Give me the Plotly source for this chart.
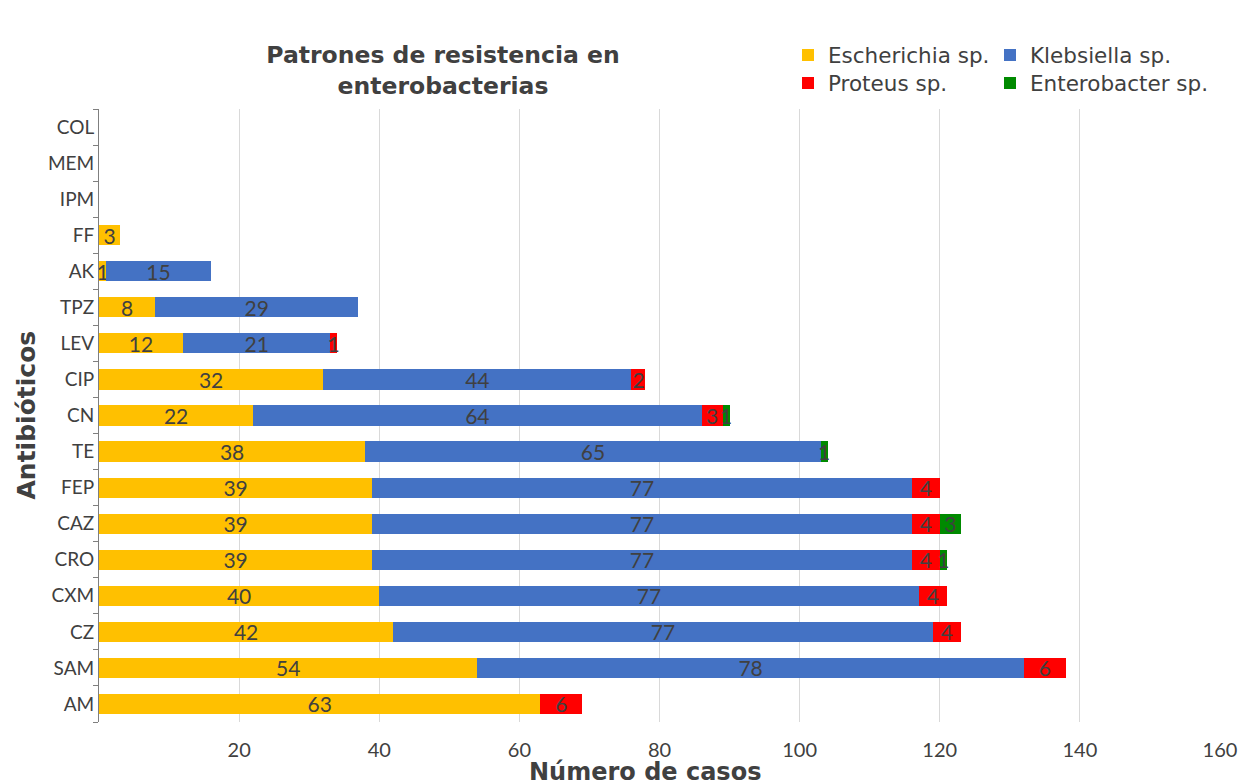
import plotly.graph_objects as go

# Antibiotics, bottom to top
antibiotics = ["AM", "SAM", "CZ", "CXM", "CRO", "CAZ", "FEP", "TE", "CN",
               "CIP", "LEV", "TPZ", "AK", "FF", "IPM", "MEM", "COL"]

escherichia = [63, 54, 42, 40, 39, 39, 39, 38, 22, 32, 12, 8, 1, 3, 0, 0, 0]
klebsiella = [0, 78, 77, 77, 77, 77, 77, 65, 64, 44, 21, 29, 15, 0, 0, 0, 0]
proteus = [6, 6, 4, 4, 4, 4, 4, 0, 3, 2, 1, 0, 0, 0, 0, 0, 0]
enterobacter = [0, 0, 0, 0, 1, 3, 0, 1, 1, 0, 0, 0, 0, 0, 0, 0, 0]

x_ticks = [20, 40, 60, 80, 100, 120, 140, 160]

# name, values, colour, legend id, legend position (px from left, px from top)
series = [
    ("Escherichia sp.", escherichia, "#FFC000", "legend", (788, 55)),
    ("Klebsiella sp.", klebsiella, "#4472C4", "legend2", (990, 55)),
    ("Proteus sp.", proteus, "#FF0000", "legend3", (788, 83)),
    ("Enterobacter sp.", enterobacter, "#008A00", "legend4", (990, 83)),
]

TEXT = "#404040"
WIDE = "DejaVu Sans, Verdana, sans-serif"
TICK = "Lato, Open Sans, sans-serif"

W, H = 1242, 783
L, R, T, B = 99, 22, 109, 61
pw, ph = W - L - R, H - T - B

fig = go.Figure()
legends = {}
for name, vals, color, leg, (lx, ly) in series:
    fig.add_trace(go.Bar(
        y=antibiotics, x=vals, name=name, orientation="h", legend=leg,
        showlegend=True,
        marker=dict(color=color, line=dict(width=0)),
        text=[str(v) if v else "" for v in vals],
        textposition="inside", insidetextanchor="middle", textangle=0,
        insidetextfont=dict(family=TICK, size=21, color=TEXT),
        cliponaxis=False,
    ))
    legends[leg] = dict(
        orientation="h", xref="container", xanchor="left",
        yref="container", yanchor="middle",
        x=lx / W, y=1 - ly / H, itemwidth=30,
        font=dict(family=WIDE, size=21.5, color=TEXT),
        bgcolor="rgba(0,0,0,0)",
    )

fig.update_layout(
    width=W, height=H, showlegend=True,
    barmode="stack", bargap=0.44,
    plot_bgcolor="white", paper_bgcolor="white",
    margin=dict(l=L, r=R, t=T, b=B, autoexpand=False),
    font=dict(family=TICK, color=TEXT),
    uniformtext=dict(minsize=21, mode="show"),
    title=dict(
        text="<b>Patrones de resistencia en<br>enterobacterias</b>",
        x=443 / W, xref="container", xanchor="center",
        y=1 - 63 / H, yref="container", yanchor="middle",
        font=dict(family=WIDE, size=23.5, color=TEXT),
    ),
    **legends,
    xaxis=dict(
        range=[0, 160], tickvals=x_ticks, automargin=False,
        showgrid=True, gridcolor="#d9d9d9", gridwidth=1,
        zeroline=False, showline=False, ticks="",
        ticklabelstandoff=14,
        tickfont=dict(family=TICK, size=20, color=TEXT),
    ),
    yaxis=dict(
        categoryorder="array", categoryarray=antibiotics, automargin=False,
        showline=True, linecolor="#7f7f7f", linewidth=1,
        ticks="outside", tickson="boundaries", ticklen=5, tickcolor="#7f7f7f",
        showgrid=False, zeroline=False,
        tickfont=dict(family=TICK, size=19, color=TEXT),
    ),
    annotations=[
        dict(text="<b>Antibióticos</b>", textangle=-90,
             xref="paper", yref="paper",
             x=(26 - L) / pw, y=0.5, xanchor="center", yanchor="middle",
             showarrow=False,
             font=dict(family=WIDE, size=25, color=TEXT)),
        dict(text="<b>Número de casos</b>",
             xref="paper", yref="paper",
             x=(645 - L) / pw, y=-(772 - (T + ph)) / ph,
             xanchor="center", yanchor="middle", showarrow=False,
             font=dict(family=WIDE, size=24, color=TEXT)),
    ],
)

fig.write_html("out.html")
